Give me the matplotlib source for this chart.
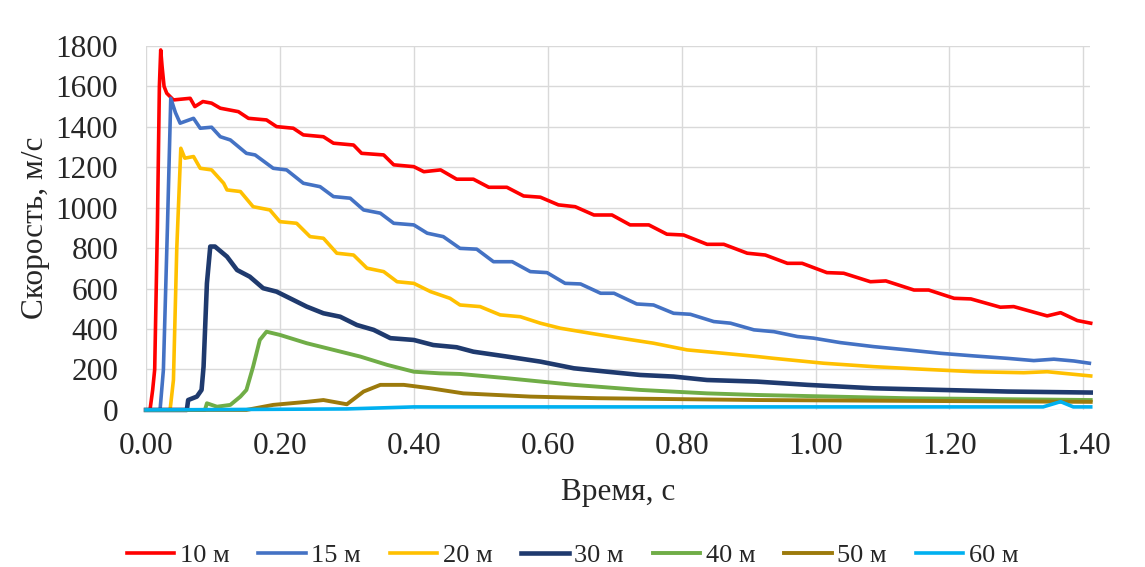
import matplotlib.pyplot as plt

# время, с / скорость, м/с
t10 = [0.0, 0.006, 0.010, 0.013, 0.017, 0.020, 0.022, 0.024, 0.027, 0.031, 0.041, 0.066, 0.073, 0.085,
       0.098, 0.111, 0.138, 0.153, 0.180, 0.195, 0.220, 0.235, 0.265, 0.280, 0.310, 0.322, 0.355, 0.370,
       0.400, 0.415, 0.440, 0.464, 0.489, 0.512, 0.539, 0.564, 0.589, 0.616, 0.641, 0.669, 0.696, 0.723,
       0.751, 0.778, 0.803, 0.838, 0.863, 0.898, 0.925, 0.958, 0.980, 1.017, 1.042, 1.082, 1.105, 1.147,
       1.169, 1.207, 1.232, 1.276, 1.296, 1.346, 1.366, 1.391, 1.411]
v10 = [0, 0, 100, 200, 900, 1600, 1780, 1700, 1600, 1566, 1533, 1541, 1500, 1525,
       1517, 1492, 1475, 1442, 1434, 1401, 1393, 1360, 1351, 1319, 1310, 1269, 1261, 1212,
       1203, 1178, 1187, 1141, 1141, 1101, 1101, 1058, 1052, 1014, 1005, 964, 964, 915,
       915, 869, 865, 819, 819, 775, 766, 725, 725, 679, 676, 634, 638, 593,
       593, 552, 549, 508, 511, 465, 481, 442, 429]

t15 = [0.0, 0.021, 0.026, 0.032, 0.037, 0.044, 0.051, 0.071, 0.081, 0.098, 0.111, 0.126, 0.150, 0.163,
       0.190, 0.210, 0.235, 0.260, 0.280, 0.305, 0.325, 0.350, 0.370, 0.400, 0.420, 0.444, 0.469, 0.494,
       0.519, 0.547, 0.574, 0.599, 0.626, 0.649, 0.679, 0.699, 0.733, 0.758, 0.788, 0.813, 0.848, 0.873,
       0.908, 0.938, 0.973, 0.997, 1.037, 1.087, 1.137, 1.187, 1.237, 1.287, 1.326, 1.356, 1.386, 1.409]
v15 = [0, 0, 198, 900, 1541, 1470, 1418, 1442, 1393, 1398, 1351, 1335, 1269, 1261,
       1195, 1187, 1121, 1104, 1055, 1047, 989, 973, 923, 915, 874, 857, 799, 795,
       733, 733, 684, 679, 626, 623, 577, 577, 524, 519, 478, 473, 437, 429,
       396, 387, 363, 355, 333, 313, 297, 280, 267, 255, 244, 251, 242, 231]

t20 = [0.0, 0.036, 0.041, 0.046, 0.052, 0.058, 0.071, 0.081, 0.098, 0.116, 0.121, 0.141, 0.160, 0.185,
       0.200, 0.225, 0.245, 0.265, 0.285, 0.310, 0.330, 0.355, 0.375, 0.400, 0.425, 0.454, 0.469, 0.499,
       0.529, 0.559, 0.589, 0.619, 0.664, 0.709, 0.758, 0.808, 0.863, 0.913, 0.938, 1.012, 1.087, 1.162,
       1.237, 1.311, 1.346, 1.411]
v20 = [0, 0, 148, 800, 1294, 1245, 1253, 1195, 1187, 1121, 1088, 1080, 1005, 989,
       931, 923, 857, 849, 775, 766, 701, 684, 634, 626, 585, 552, 519, 511,
       470, 461, 429, 404, 379, 355, 330, 297, 280, 264, 255, 231, 214, 201,
       189, 184, 189, 168]

t30 = [0.0, 0.061, 0.063, 0.076, 0.083, 0.086, 0.091, 0.096, 0.103, 0.121, 0.136, 0.155, 0.175, 0.195,
       0.220, 0.240, 0.265, 0.290, 0.315, 0.340, 0.365, 0.400, 0.429, 0.464, 0.489, 0.539, 0.589, 0.639,
       0.689, 0.738, 0.788, 0.838, 0.913, 0.988, 1.087, 1.187, 1.287, 1.411]
v30 = [0, 0, 49, 66, 99, 214, 626, 808, 808, 758, 692, 659, 602, 585,
       544, 511, 478, 461, 420, 396, 355, 346, 321, 310, 288, 264, 239, 206,
       189, 173, 165, 148, 140, 124, 107, 99, 91, 86]

t40 = [0.0, 0.088, 0.091, 0.106, 0.126, 0.141, 0.150, 0.160, 0.170, 0.180, 0.200, 0.240, 0.280, 0.320,
       0.360, 0.400, 0.439, 0.469, 0.539, 0.639, 0.738, 0.838, 0.913, 1.137, 1.411]
v40 = [0, 0, 33, 16, 25, 66, 99, 214, 346, 387, 371, 330, 297, 264,
       223, 189, 181, 178, 157, 124, 99, 82, 74, 58, 49]

t50 = [0.0, 0.150, 0.190, 0.240, 0.265, 0.300, 0.325, 0.350, 0.385, 0.425, 0.474, 0.574, 0.674, 0.913, 1.411]
v50 = [0, 0, 25, 40, 49, 28, 91, 124, 124, 107, 82, 66, 58, 49, 40]

t60 = [0.0, 0.300, 0.400, 0.700, 1.000, 1.340, 1.366, 1.385, 1.411]
v60 = [0, 5, 15, 15, 15, 15, 41, 15, 15]

series = [
    ('10 м', t10, v10, '#FF0000', 2.6),
    ('15 м', t15, v15, '#4472C4', 2.6),
    ('20 м', t20, v20, '#FFC000', 2.6),
    ('30 м', t30, v30, '#1F3A6E', 3.3),
    ('40 м', t40, v40, '#70AD47', 2.8),
    ('50 м', t50, v50, '#9C7A0C', 2.8),
    ('60 м', t60, v60, '#00B0F0', 2.6),
]

plt.rcParams['font.family'] = ['Liberation Serif', 'DejaVu Serif']

fig = plt.figure(figsize=(11.45, 5.67), dpi=100)
ax = fig.add_axes([0.1275, 0.277, 0.8245, 0.642])

for name, t, v, c, lw in series:
    ax.plot(t, v, color=c, lw=lw, label=name, clip_on=False, solid_joinstyle='round')

ax.set_xlim(0, 1.41)
ax.set_ylim(0, 1800)
ax.set_xticks([0, 0.2, 0.4, 0.6, 0.8, 1.0, 1.2, 1.4])
ax.set_xticklabels(['%.2f' % x for x in [0, 0.2, 0.4, 0.6, 0.8, 1.0, 1.2, 1.4]])
ax.set_yticks(range(0, 1801, 200))
ax.grid(True, color='#D9D9D9', lw=1)
ax.set_axisbelow(True)
for s in ax.spines.values():
    s.set_visible(False)
ax.tick_params(axis='both', length=0, labelsize=22.5, colors='#262626')
ax.tick_params(axis='x', pad=16)
ax.tick_params(axis='y', pad=20)

ax.set_xlabel('Время, с', fontsize=22.5, color='#262626', labelpad=12)
ax.set_ylabel('Скорость, м/с', fontsize=22.5, color='#262626', labelpad=4)

fig.legend(loc='center', bbox_to_anchor=(0.5, 0.02), ncol=7, frameon=False, fontsize=19,
           handlelength=1.8, handletextpad=0.2, columnspacing=1.1, labelcolor='#262626')

fig.savefig('out.png', dpi=100)
